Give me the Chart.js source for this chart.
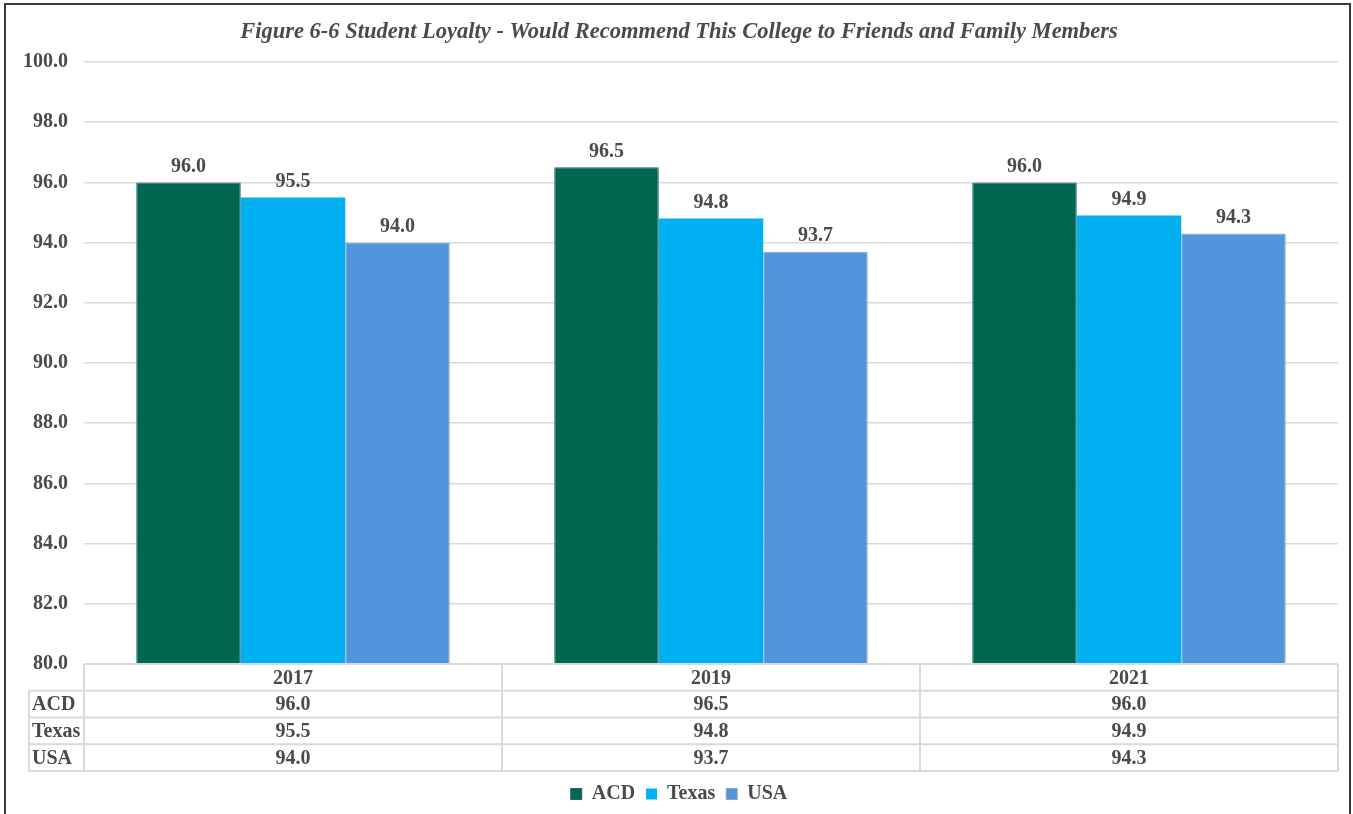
<!DOCTYPE html>
<html>
<head>
<meta charset="utf-8">
<script src="https://cdn.jsdelivr.net/npm/chart.js@4.4.0/dist/chart.umd.min.js"></script>
<style>
  html, body { margin: 0; padding: 0; background: #fff; overflow: hidden; }
  #frame { position: absolute; left: 4px; top: 3px; width: 1343px; height: 830px; border: 2px solid #3a3a3a; }
  #c { display: block; }
</style>
</head>
<body>
<div id="frame"><canvas id="c" width="1343" height="809"></canvas></div>
<script>
var years = ["2017", "2019", "2021"];
var seriesNames = ["ACD", "Texas", "USA"];
var acd = [96.0, 96.5, 96.0];
var texas = [95.5, 94.8, 94.9];
var usa = [94.0, 93.7, 94.3];
var yTicks = [80, 82, 84, 86, 88, 90, 92, 94, 96, 98, 100];

var textColor = "#4a4a4a";
var lineColor = "#d9d9d9";
var serif = "'Liberation Serif', 'Times New Roman', serif";

// value labels over the bars
var barLabels = {
  id: "barLabels",
  afterDatasetsDraw: function(chart) {
    var ctx = chart.ctx;
    ctx.save();
    ctx.font = "bold 20px " + serif;
    ctx.fillStyle = textColor;
    ctx.textAlign = "center";
    ctx.textBaseline = "bottom";
    chart.data.datasets.forEach(function(ds, i) {
      chart.getDatasetMeta(i).data.forEach(function(bar, j) {
        ctx.fillText(ds.data[j].toFixed(1), bar.x, bar.y - 6);
      });
    });
    ctx.restore();
  }
};

// data table under the plot, like excel
var dataTable = {
  id: "dataTable",
  afterDraw: function(chart) {
    var ctx = chart.ctx;
    var area = chart.chartArea;
    var x = chart.scales.x;
    var rowH = 26.75;
    var top = area.bottom;
    var leftCol = 23;
    var n = years.length;
    var step = (area.right - area.left) / n;
    ctx.save();
    ctx.strokeStyle = lineColor;
    ctx.lineWidth = 2;
    ctx.beginPath();
    // header row
    ctx.moveTo(area.left, top); ctx.lineTo(area.right, top);
    for (var r = 1; r <= 4; r++) {
      ctx.moveTo(leftCol, top + r * rowH); ctx.lineTo(area.right, top + r * rowH);
    }
    ctx.moveTo(leftCol, top + rowH); ctx.lineTo(leftCol, top + 4 * rowH);
    for (var k = 0; k <= n; k++) {
      var xx = area.left + k * step;
      ctx.moveTo(xx, top); ctx.lineTo(xx, top + 4 * rowH);
    }
    ctx.stroke();

    ctx.fillStyle = textColor;
    ctx.font = "bold 20px " + serif;
    ctx.textBaseline = "middle";
    ctx.textAlign = "center";
    var rows = [acd, texas, usa];
    years.forEach(function(y, j) {
      var cx = x.getPixelForValue(j);
      ctx.fillText(y, cx, top + rowH / 2 + 1);
      rows.forEach(function(vals, r) {
        ctx.fillText(vals[j].toFixed(1), cx, top + (r + 1.5) * rowH + 1);
      });
    });
    ctx.textAlign = "left";
    seriesNames.forEach(function(s, r) {
      ctx.fillText(s, leftCol + 3, top + (r + 1.5) * rowH + 1);
    });
    ctx.restore();
  }
};

var chart = new Chart(document.getElementById("c").getContext("2d"), {
  type: "bar",
  data: {
    labels: years,
    datasets: [
      { label: seriesNames[0], data: acd, backgroundColor: "#00664f", borderColor: "#1f5f80", borderWidth: 1 },
      { label: seriesNames[1], data: texas, backgroundColor: "#00b0f0", borderColor: "#00b0f0", borderWidth: 0 },
      { label: seriesNames[2], data: usa, backgroundColor: "#5094da", borderColor: "#9aa4ae", borderWidth: 1 }
    ]
  },
  options: {
    responsive: false,
    animation: false,
    datasets: { bar: { categoryPercentage: 0.75, barPercentage: 1.0, borderSkipped: "bottom" } },
    layout: { padding: { left: 14, right: 11, top: 0, bottom: 0 } },
    plugins: {
      title: {
        display: true,
        text: "Figure 6-6 Student Loyalty - Would Recommend This College to Friends and Family Members",
        color: textColor,
        font: { family: serif, size: 22.5, style: "italic", weight: "bold" },
        padding: { top: 14, bottom: 16 }
      },
      legend: {
        position: "bottom",
        labels: {
          color: textColor,
          font: { family: serif, size: 20, weight: "bold" },
          boxWidth: 11, boxHeight: 11, padding: 11
        }
      },
      tooltip: { enabled: false }
    },
    scales: {
      x: {
        grid: { display: false },
        border: { display: false },
        ticks: { display: false },
        afterFit: function(scale) { scale.height = 109; }
      },
      y: {
        min: 80, max: 100,
        afterBuildTicks: function(scale) { scale.ticks = yTicks.map(function(v) { return { value: v }; }); },
        afterFit: function(scale) { scale.width = 64; },
        grid: { color: lineColor, lineWidth: 1.5, drawTicks: false },
        border: { display: false },
        ticks: {
          color: textColor, padding: 16,
          font: { family: serif, size: 20, weight: "bold" },
          callback: function(v) { return v.toFixed(1); }
        }
      }
    }
  },
  plugins: [barLabels, dataTable]
});
</script>
</body>
</html>
